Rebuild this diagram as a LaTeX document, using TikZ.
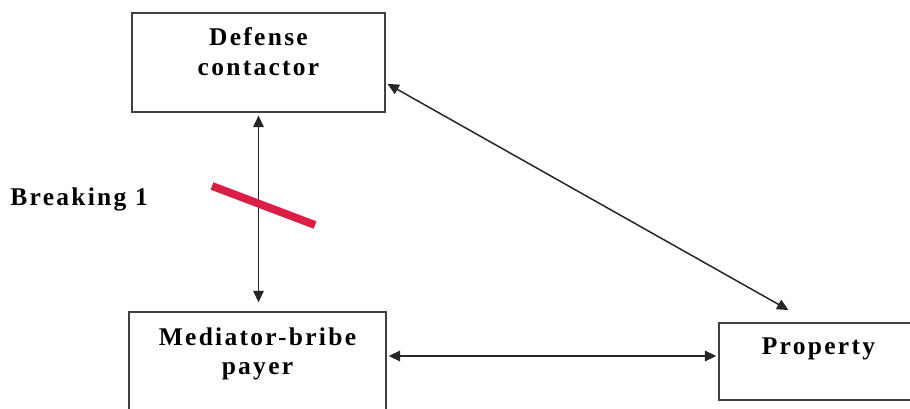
\documentclass[tikz,border=0pt]{standalone}
\usepackage{fontspec}
\setmainfont[LetterSpace=9]{Liberation Serif}
\usetikzlibrary{arrows.meta,positioning}
\definecolor{breakred}{RGB}{218,30,70}
\begin{document}
\begin{tikzpicture}[
    box/.style = {draw = black!75, line width = 1.1pt, shape = rectangle},
    lbl/.style = {font = \bfseries\fontsize{14.5}{17}\selectfont, align = center, inner sep = 0pt},
    link/.style = {draw = black!85, line width = 0.85pt, {Triangle[length=6.5pt,width=6pt]}-{Triangle[length=6.5pt,width=6pt]}}]
\useasboundingbox (0,0) rectangle (18.2,8.16);

\node[box, minimum width = 5.06cm, minimum height = 1.98cm] (DC) at (5.17,6.91) {};
\node[box, minimum width = 5.14cm, minimum height = 2.2cm] (MB) at (5.15,0.82) {};
\node[box, minimum width = 3.98cm, minimum height = 1.54cm] (PR) at (16.37,0.93) {};

\node[lbl, below = 0.3cm of DC.north] (DCtext) {Defense\\contactor};
\node[lbl, below = 0.32cm of MB.north] (MBtext) {Mediator-bribe\\payer};
\node[lbl, below = 0.3cm of PR.north] (PRtext) {Property};
\node[lbl, anchor = base west] (BR) at (0.2,4.06) {Breaking 1};

\coordinate (DCe) at ([yshift=-0.41cm]DC.east);
\coordinate (PRn) at ([xshift=-0.6cm, yshift=0.24cm]PR.north);
\coordinate (PRw) at ([yshift=0.11cm]PR.west);

\draw[link, shorten <= 1.5pt, shorten >= 5pt] (DC.south) -- (DC.south |- MB.north);
\draw[link, shorten <= 1pt, shorten >= 1pt] (MB.east |- PRw) -- (PRw);
\draw[link, shorten <= 1pt] (DCe) -- (PRn);

\draw[breakred, line width = 4.5pt] (4.24,4.44) -- (6.30,3.66);
\end{tikzpicture}
\end{document}
